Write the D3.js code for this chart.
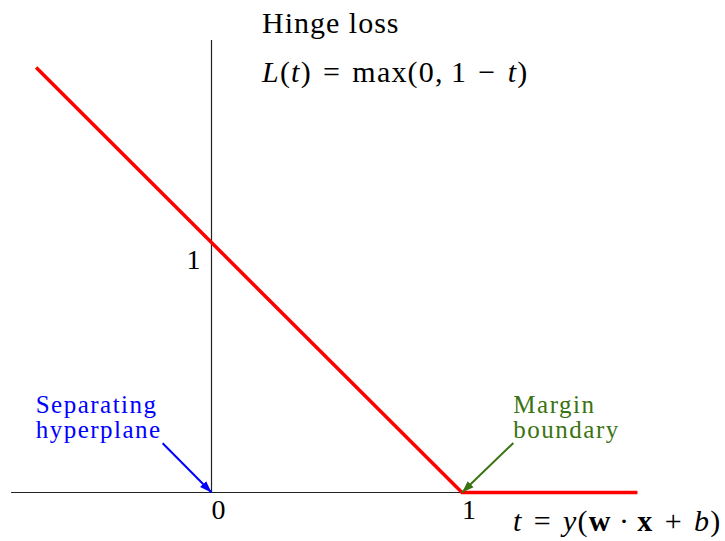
<!DOCTYPE html>
<html>
<head>
<meta charset="utf-8">
<script src="https://cdn.jsdelivr.net/npm/d3@7/dist/d3.min.js"></script>
<style>
  html, body { margin: 0; padding: 0; background: #fff; }
  svg { display: block; }
  text { font-family: "Liberation Serif", "Times New Roman", serif; }
</style>
</head>
<body>
<div id="chart"></div>
<script>
// Hinge loss L(t) = max(0, 1 - t), drawn as a polyline through its corner points
const tValues = [-0.7, 1.0, 1.7];
const lossValues = [1.7, 0.0, 0.0];

// axis extents (in t and L units)
const xAxisExtent = [-0.8, 1.7];
const yAxisExtent = [0, 1.81];

// tick labels
const xTickValues = [0, 1];
const xTickLabels = ["0", "1"];
const yTickValues = [1];
const yTickLabels = ["1"];

// annotation arrows: [from t, from L] -> [to t, to L]
const annotations = [
  { lines: ["Separating", "hyperplane"], from: [-0.195, 0.197], to: [0, 0], color: "#0000ff", textAt: [-0.702, 0.318] },
  { lines: ["Margin", "boundary"], from: [1.205, 0.198], to: [1, 0], color: "#3a7311", textAt: [1.205, 0.318] }
];

const width = 725, height = 541;
const svg = d3.select("#chart").append("svg")
  .attr("width", width).attr("height", height);

const x = d3.scaleLinear().domain([0, 1]).range([211.5, 462]);
const y = d3.scaleLinear().domain([0, 1]).range([492.5, 242.5]);

const defs = svg.append("defs");
annotations.forEach((a, i) => {
  defs.append("marker")
    .attr("id", "head" + i)
    .attr("viewBox", "0 0 10 10")
    .attr("refX", 10).attr("refY", 5)
    .attr("markerWidth", 6).attr("markerHeight", 6)
    .attr("markerUnits", "strokeWidth")
    .attr("orient", "auto")
    .append("path").attr("d", "M0,1.5 L10,5 L0,8.5 Z").attr("fill", a.color);
});

// axes
svg.append("line")
  .attr("x1", x(xAxisExtent[0])).attr("x2", x(xAxisExtent[1]))
  .attr("y1", y(0)).attr("y2", y(0))
  .attr("stroke", "#222").attr("stroke-width", 1.2);
svg.append("line")
  .attr("x1", x(0)).attr("x2", x(0))
  .attr("y1", y(yAxisExtent[0])).attr("y2", y(yAxisExtent[1]))
  .attr("stroke", "#222").attr("stroke-width", 1.2);

// tick labels
svg.selectAll("text.xtick").data(xTickValues).join("text")
  .attr("class", "xtick")
  .attr("x", d => x(d) + 7).attr("y", y(0) + 26)
  .attr("text-anchor", "middle").attr("font-size", 28)
  .text((d, i) => xTickLabels[i]);
svg.selectAll("text.ytick").data(yTickValues).join("text")
  .attr("class", "ytick")
  .attr("x", x(0) - 18).attr("y", d => y(d) + 26)
  .attr("text-anchor", "middle").attr("font-size", 28)
  .text((d, i) => yTickLabels[i]);

// loss curve
const pts = tValues.map((t, i) => [t, lossValues[i]]);
svg.append("path")
  .datum(pts)
  .attr("d", d3.line().x(d => x(d[0])).y(d => y(d[1])))
  .attr("fill", "none").attr("stroke", "#ff0000")
  .attr("stroke-width", 3.5).attr("stroke-linejoin", "miter");

// annotations
annotations.forEach((a, i) => {
  svg.append("line")
    .attr("x1", x(a.from[0])).attr("y1", y(a.from[1]))
    .attr("x2", x(a.to[0])).attr("y2", y(a.to[1]))
    .attr("stroke", a.color).attr("stroke-width", 2)
    .attr("marker-end", `url(#head${i})`);
  const t = svg.append("text")
    .attr("x", x(a.textAt[0])).attr("y", y(a.textAt[1]))
    .attr("fill", a.color).attr("font-size", 25)
    .attr("letter-spacing", 1.5);
  a.lines.forEach((l, k) => t.append("tspan")
    .attr("x", x(a.textAt[0])).attr("dy", k === 0 ? 0 : 25).text(l));
});

// title and formulas
svg.append("text").attr("x", 262).attr("y", 33).attr("font-size", 30)
  .attr("letter-spacing", 1).text("Hinge loss");

function mathText(sel, parts) {
  parts.forEach(p => {
    const ts = sel.append("tspan").text(p.s);
    if (p.i) ts.attr("font-style", "italic");
    if (p.b) ts.attr("font-weight", "bold");
  });
}
const f1 = svg.append("text").attr("x", 262).attr("y", 82).attr("font-size", 30)
  .attr("letter-spacing", 1.2);
mathText(f1, [
  { s: "L", i: 1 }, { s: "(" }, { s: "t", i: 1 }, { s: ")\u2004=\u2004max(0,\u20091\u2004\u2212\u2004" }, { s: "t", i: 1 }, { s: ")" }
]);

const f2 = svg.append("text").attr("x", 513).attr("y", 531).attr("font-size", 30)
  .attr("letter-spacing", 1.2);
mathText(f2, [
  { s: "t", i: 1 }, { s: "\u2004=\u2004" }, { s: "y", i: 1 }, { s: "(" }, { s: "w", b: 1 }, { s: "\u2009\u00b7\u2009" },
  { s: "x", b: 1 }, { s: "\u2004+\u2004" }, { s: "b", i: 1 }, { s: ")" }
]);
</script>
</body>
</html>
